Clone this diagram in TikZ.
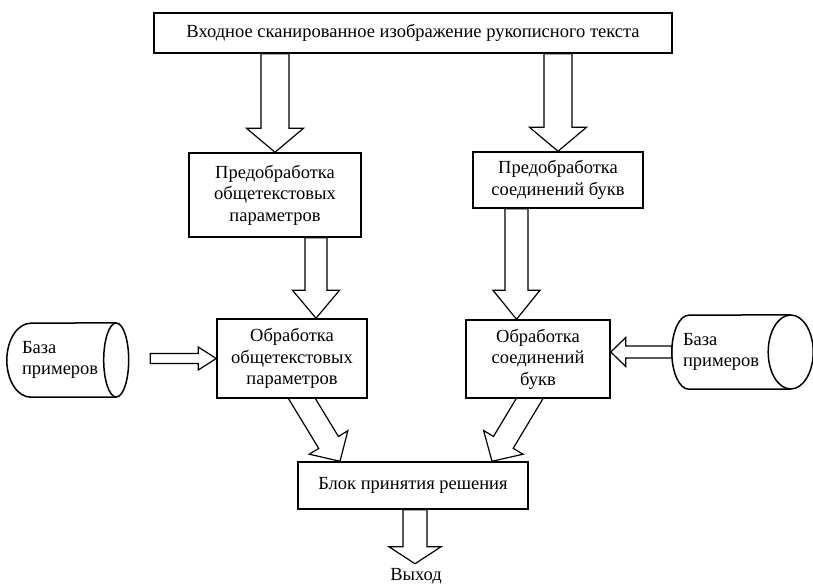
\documentclass[tikz,border=0pt]{standalone}
\usepackage{fontspec}
\setmainfont{Liberation Serif}
\usetikzlibrary{calc,backgrounds}

% hollow block arrow: start, tip, shaft half width, head half width, head length
\newcommand{\blockarrow}[5]{%
  \coordinate (ba-s) at #1;
  \coordinate (ba-t) at #2;
  \coordinate (ba-b) at ($(ba-t)!#5pt!(ba-s)$);
  \draw[barrow] ($(ba-s)!#3pt!90:(ba-t)$) -- ($(ba-b)!#3pt!90:(ba-t)$) -- ($(ba-b)!#4pt!90:(ba-t)$)
    -- (ba-t) -- ($(ba-b)!#4pt!-90:(ba-t)$) -- ($(ba-b)!#3pt!-90:(ba-t)$) -- ($(ba-s)!#3pt!-90:(ba-t)$) -- cycle;}

% drum outline round a node: node name, front radius, back radius (node ends at centre of the front ellipse)
\newcommand{\dbdrum}[3]{%
  \draw[dbline] ($(#1.south east)$) -- ($(#1.south west)+(#3,0)$) arc (270:90:#3pt and 37pt)
    -- (#1.north east);
  \draw[dbline] (#1.east) ellipse [x radius=#2pt, y radius=37pt];}

\tikzset{
  box/.style={draw, line width=1.5pt, fill=white, align=center, inner sep=0pt},
  db/.style={minimum height=74pt, inner ysep=0pt, align=left},
  dbline/.style={draw, line width=1.5pt, fill=white},
  barrow/.style={draw, line width=1.2pt, fill=white, line join=miter},
}

\begin{document}
\begin{tikzpicture}[x=1pt, y=-1pt, font=\fontsize{18.5}{21.5}\selectfont]
\useasboundingbox (0,0) rectangle (813,584);
\node[box, minimum width=518pt, minimum height=40pt] (input) at (413,33) {Входное сканированное изображение рукописного текста};
\node[box, minimum width=172pt, minimum height=84pt] (pre1) at (275,195) {Предобработка\\общетекстовых\\параметров};
\node[box, minimum width=170pt, minimum height=56pt] (pre2) at (558,180) {Предобработка\\соединений букв};
\node[box, minimum width=150pt, minimum height=79pt] (proc1) at (292,358.5) {Обработка\\общетекстовых\\параметров};
\node[box, minimum width=144pt, minimum height=78pt] (proc2) at (538,359) {Обработка\\соединений\\букв};
\node[box, minimum width=230pt, minimum height=47pt] (dec) at (413,485.5) {Блок принятия решения};
\node (out) at (416,576) {Выход};
\node[db, inner xsep=15pt, text width=79pt] (db1) at (61.5,360) {База\\примеров};
\node[db, inner xsep=11pt, text width=96.5pt] (db2) at (731.25,352) {База\\примеров};

\begin{scope}[on background layer]
\dbdrum{db1}{12.5}{24}
\dbdrum{db2}{22.5}{17}
\blockarrow{(input.south -| pre1.north)}{(pre1.north)}{14}{28.5}{24}
\blockarrow{(input.south -| pre2.north)}{(pre2.north)}{14}{28.5}{24}
\blockarrow{($(pre1.south)+(41,0)$)}{($(proc1.north)+(24,0)$)}{11}{23.5}{28}
\blockarrow{($(pre2.south)+(-41.5,0)$)}{($(proc2.north)+(-21.5,0)$)}{11.5}{23.5}{29}
\blockarrow{($(proc1.west)+(-66,0)$)}{(proc1.west)}{5}{11.5}{18}
\blockarrow{(db2.west)}{(proc2.east |- db2.west)}{6}{14.5}{15}
% slanted ones into the decision block
\coordinate (l-s) at ($(proc1.south)+(10,0)$);
\coordinate (l-t) at ($(dec.north)+(-73,0)$);
\blockarrow{($(l-s)!-16pt!(l-t)$)}{(l-t)}{11.5}{22.6}{22}
\coordinate (r-s) at ($(proc2.south)+(-8.5,0)$);
\coordinate (r-t) at ($(dec.north)+(79,0)$);
\blockarrow{($(r-s)!-16pt!(r-t)$)}{(r-t)}{11.5}{23}{22}
\blockarrow{($(dec.south)+(2,0)$)}{($(dec.south)+(2,54)$)}{12}{26}{17}
\end{scope}
\end{tikzpicture}
\end{document}
